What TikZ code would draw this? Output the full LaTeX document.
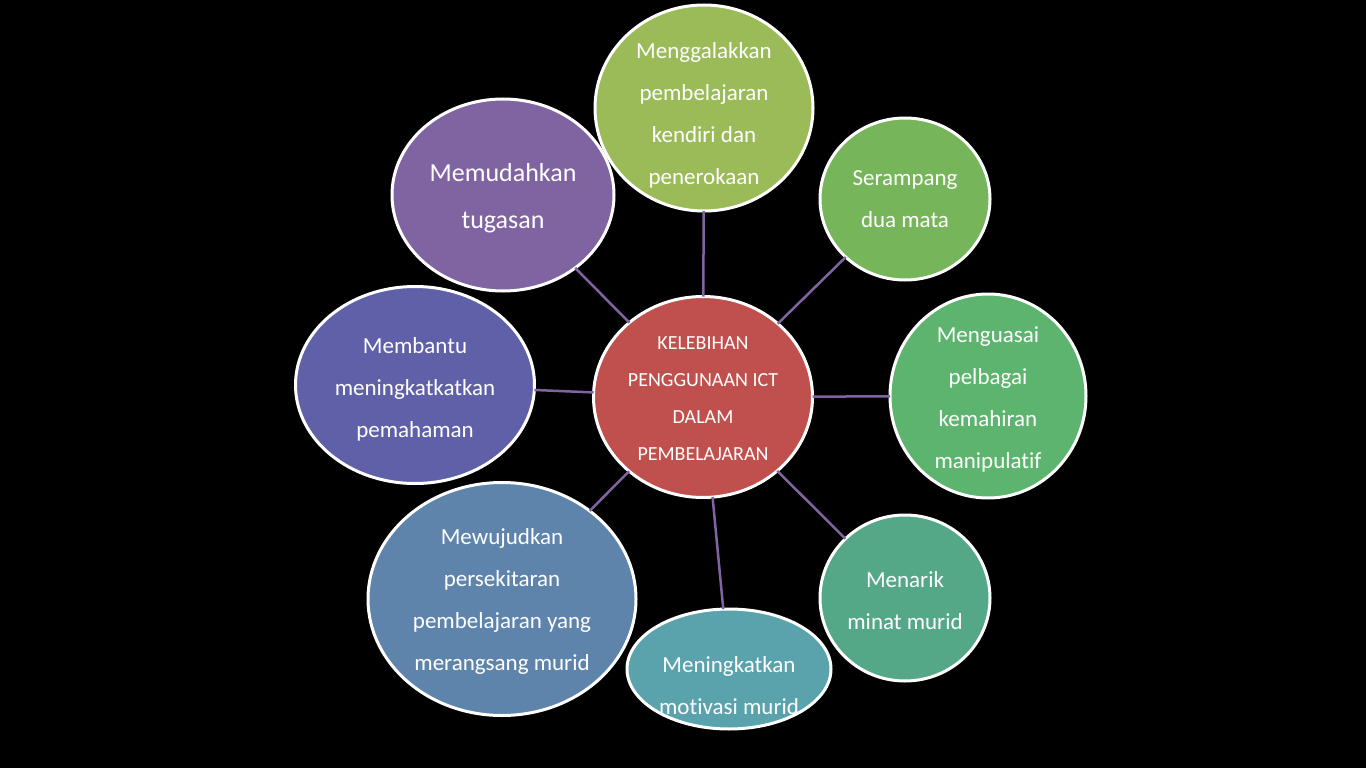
\documentclass[tikz,border=0pt]{standalone}
\usepackage{fontspec}
\setmainfont{Carlito}[Ligatures={NoCommon}]
\usetikzlibrary{shapes.geometric}
\definecolor{cTop}{HTML}{9BBB59}
\definecolor{cSer}{HTML}{77B55A}
\definecolor{cMng}{HTML}{5DB46E}
\definecolor{cMen}{HTML}{55A887}
\definecolor{cMot}{HTML}{5AA3AD}
\definecolor{cMew}{HTML}{5F84AC}
\definecolor{cMem}{HTML}{6060A8}
\definecolor{cMud}{HTML}{8064A2}
\definecolor{cCen}{HTML}{C0504D}
\definecolor{cLine}{HTML}{8064A2}
\tikzset{
  bubble/.style={ellipse,draw=white,line width=3pt,inner sep=0pt,outer sep=0pt},
  lbl/.style={text=white,align=center,font=\fontsize{23}{42}\selectfont},
  conn/.style={draw=cLine,line width=2.5pt}
}
\begin{document}
\begin{tikzpicture}[x=1pt,y=-1pt]
\fill[black] (0,0) rectangle (1366,768);
\useasboundingbox (0,0) rectangle (1366,768);
\node[bubble,fill=cCen,minimum width=219pt,minimum height=201pt] (cen) at (703,397) {};
\node[bubble,fill=cTop,minimum width=218pt,minimum height=206pt] (top) at (704,108) {};
\node[bubble,fill=cSer,minimum width=170pt,minimum height=162pt] (ser) at (905,199) {};
\node[bubble,fill=cMng,minimum width=196pt,minimum height=204pt] (mng) at (988,396) {};
\node[bubble,fill=cMen,minimum width=170pt,minimum height=166pt] (men) at (905,598) {};
\node[bubble,fill=cMot,minimum width=204pt,minimum height=120pt] (mot) at (729,669) {};
\node[bubble,fill=cMew,minimum width=268pt,minimum height=233pt] (mew) at (502,599) {};
\node[bubble,fill=cMem,minimum width=239pt,minimum height=197pt] (mem) at (415,385) {};
\node[bubble,fill=cMud,minimum width=222pt,minimum height=192pt] (mud) at (503,195) {};
\foreach \n in {top,ser,mng,men,mot,mew,mem,mud}{
  \draw[conn] (cen) -- (\n);
}
\node[lbl,font=\fontsize{20}{37}\selectfont] (tCen) at (703,399) {KELEBIHAN\\PENGGUNAAN ICT\\DALAM\\PEMBELAJARAN};
\node[lbl] (tTop) at (704,115) {Menggalakkan\\pembelajaran\\kendiri dan\\penerokaan};
\node[lbl] (tSer) at (905,199) {Serampang\\dua mata};
\node[lbl] (tMng) at (988,399) {Menguasai\\pelbagai\\kemahiran\\manipulatif};
\node[lbl] (tMen) at (905,601) {Menarik\\minat murid};
\node[lbl] (tMot) at (729,686) {Meningkatkan\\motivasi murid};
\node[lbl] (tMew) at (502,601) {Mewujudkan\\persekitaran\\pembelajaran yang\\merangsang murid};
\node[lbl] (tMem) at (415,389) {Membantu\\meningkatkatkan\\pemahaman};
\node[lbl,font=\fontsize{26}{47}\selectfont] (tMud) at (503,198) {Memudahkan\\tugasan};
\end{tikzpicture}
\end{document}
